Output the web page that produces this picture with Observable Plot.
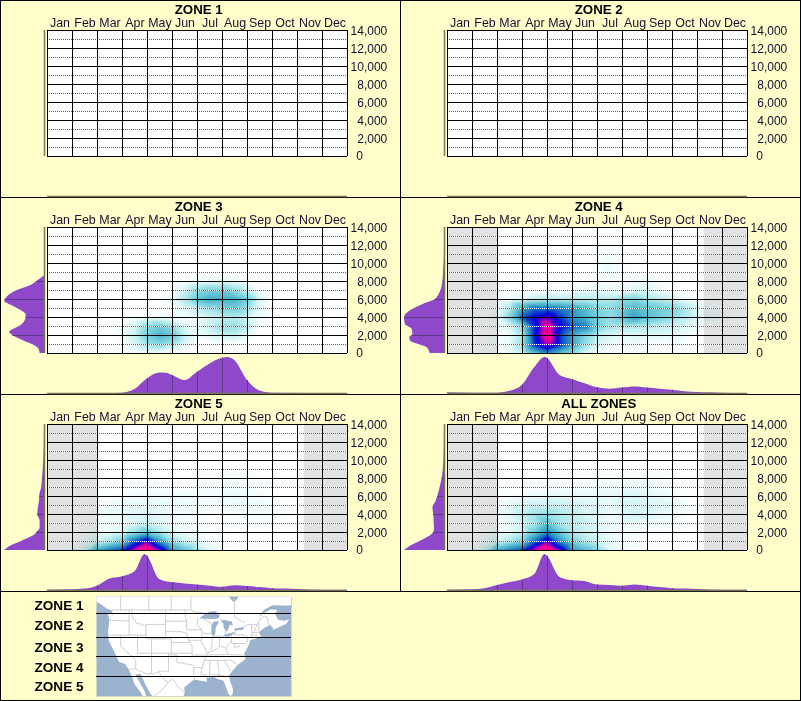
<!DOCTYPE html>
<html><head><meta charset="utf-8">
<script src="https://cdn.jsdelivr.net/npm/d3@7"></script>
<script src="https://cdn.jsdelivr.net/npm/@observablehq/plot@0.6"></script>
<style>
html,body{margin:0;padding:0;background:#FFFFCC;overflow:hidden}
#chart{position:absolute;left:0;top:0}
#legend{position:absolute;left:0;top:592px}
#edge{position:absolute;left:0;top:592px;width:801px;height:109px;box-sizing:border-box;border:1px solid #000;border-top:none;pointer-events:none}
svg{display:block}
</style></head><body>
<div id="chart"></div><div id="legend"></div><div id="edge"></div>
<script>
const months=["Jan","Feb","Mar","Apr","May","Jun","Jul","Aug","Sep","Oct","Nov","Dec"];
const monthEdges=[0,1,2,3,4,5,6,7,8,9,10,11,12];
const elevLabels=[2000,4000,6000,8000,10000,12000,14000];
const elevMajor=[0,2000,4000,6000,8000,10000,12000,14000];
const elevMinor=[1000,3000,5000,7000,9000,11000,13000];
const panelNames=["ZONE 1","ZONE 2","ZONE 3","ZONE 4","ZONE 5","ALL ZONES"];
const greyPanels=[3,4,5];
const heatElev=[0,1000,2000,3000,4000,5000,6000,7000,8000,9000];

// half-month columns from January 1; trailing zeros omitted; rows low to high elevation
const heatZone3=[[],
[0,0,0,0,0,0,1,6,15,20,13,4],
[0,0,0,0,0,0,3,9,24,34,26,9,2,5,9,9,4],
[0,0,0,0,0,0,2,7,18,24,17,6,4,9,16,17,10,1],
[0,0,0,0,0,0,0,1,2,3,2,1,3,7,10,11,7,1],
[0,0,0,0,0,0,0,0,0,0,2,5,10,16,22,24,16,4],
[0,0,0,0,0,0,0,0,0,0,4,14,28,36,34,35,24,6],
[0,0,0,0,0,0,0,0,0,0,1,8,18,24,24,18,8,1],
[0,0,0,0,0,0,0,0,0,0,0,0,2,4,4,3,1],
[]];
const heatZone4=[
[0,0,0,0,1,3,7,28,42,30,18,6,2],
[0,0,0,0,2,4,17,62,82,62,40,18,6,3,2,3,1,0,3],
[0,0,0,0,1,3,15,65,95,60,38,22,10,6,5,5,5,5,4,3],
[0,0,0,0,2,6,20,62,90,68,55,48,24,14,12,13,12,10,8,6,3],
[1,1,2,1,4,22,55,68,76,60,42,35,24,18,26,40,30,24,18,12,6,3,2],
[0,0,0,0,2,14,38,52,52,48,42,32,22,18,26,32,28,25,22,14,5,2,1],
[0,0,0,0,0,3,6,10,12,12,12,12,12,12,18,22,15,12,8,3,1],
[0,0,0,0,0,0,0,0,0,1,3,3,3,3,3,6,6,2],
[0,0,0,0,0,0,0,0,0,0,0,0,1,1,1,2,3,1],
[0,0,0,0,0,0,0,0,0,0,0,0,1,3,1]];
const heatZone5=[
[0,0,2,10,40,52,62,86,100,78,42,28,15,5,1],
[0,0,0,2,7,14,24,55,76,42,18,9,5,2,1],
[0,0,0,0,2,3,6,16,26,14,6,3,2,0,1],
[0,0,0,0,1,2,3,6,9,5,3,2,1,0,1,0,1,0,1],
[0,0,0,0,2,4,4,5,6,4,3,2,1,0,1,1,2,2,2,1],
[0,0,0,0,1,3,4,4,4,4,3,3,2,2,2,3,3,3,2,1],
[0,0,0,0,0,1,2,2,3,3,3,3,2,2,3,3,3,2,1],
[0,0,0,0,0,0,0,1,1,1,1,0,1,2,2,2,2,1],
[0,0,0,0,0,0,0,0,0,0,0,0,0,0,1,1,1],
[]];
const heatAll=[
[0,0,2,10,38,50,60,86,100,78,42,32,20,6,2],
[0,0,0,2,7,14,24,52,76,44,24,14,8,4,2,1],
[0,0,0,0,2,4,9,26,46,26,14,8,6,3,2,2,1,0,1],
[0,0,0,0,1,4,7,14,30,14,12,9,5,3,3,3,3,2,2,1],
[0,0,0,0,2,6,11,16,18,12,10,7,5,3,5,8,6,4,3,1],
[0,0,0,0,1,4,8,9,9,9,9,7,5,4,6,7,6,6,5,2],
[0,0,0,0,0,1,2,3,4,4,4,4,4,4,6,7,5,4,2,1],
[0,0,0,0,0,0,0,1,1,2,2,2,2,3,3,4,4,2,1],
[0,0,0,0,0,0,0,0,0,0,0,0,1,1,1,2,2,1],
[]];

// margins: [month, share of peak]
const monthZone3=[[0,0],[2.5,0],[3,.01],[3.5,.11],[4,.41],[4.5,.57],[4.75,.56],[5,.5],[5.5,.36],[6,.59],[6.5,.82],[7,.98],[7.2,1],[7.5,.91],[8,.36],[8.5,.07],[9,.01],[12,0]];
const monthZone4=[[0,.02],[1,.01],[2,.01],[2.5,.06],[3,.23],[3.5,.73],[3.9,1],[4,.97],[4.5,.5],[5,.39],[5.5,.27],[6,.16],[6.5,.12],[7,.15],[7.5,.18],[8,.15],[8.5,.12],[9,.09],[9.5,.05],[10,.03],[10.5,.02],[11,.01],[12,0]];
const monthZone5=[[0,.01],[1,.02],[1.5,.04],[2,.12],[2.5,.32],[3,.38],[3.5,.52],[3.9,1],[4,.95],[4.5,.3],[5,.22],[5.5,.18],[6,.15],[6.5,.12],[7,.09],[7.5,.13],[8,.11],[8.5,.08],[9,.05],[9.5,.04],[10,.03],[11,.01],[12,.01]];
const monthAll=[[0,.01],[1,.02],[1.5,.05],[2,.14],[2.5,.22],[3,.29],[3.5,.45],[3.9,1],[4,.95],[4.5,.36],[5,.27],[5.5,.25],[6,.15],[6.5,.14],[7,.12],[7.5,.15],[8,.12],[8.5,.08],[9,.05],[9.5,.04],[10,.03],[11,.01],[12,.01]];
// [elevation, share of peak]
const elevZone3=[[0,.11],[500,.14],[1000,.3],[1400,.52],[2000,.79],[2330,.87],[3200,.56],[4000,.46],[4300,.46],[5000,.68],[5850,1],[6000,.98],[6800,.77],[7700,.28],[8000,.19],[8600,0]];
const elevZone4=[[0,.36],[660,.44],[1400,.85],[1780,.87],[2000,.81],[2150,.79],[2700,.81],[3260,.98],[4000,1],[4740,.85],[5480,.52],[6000,.23],[6780,.11],[7700,.05],[8000,.04],[9370,.02],[10000,.01],[12000,0],[14000,0]];
const elevZone5=[[0,1],[480,.85],[1040,.56],[1780,.23],[2000,.19],[2500,.11],[3260,.11],[4000,.17],[4740,.15],[5850,.12],[6000,.12],[6960,.07],[8000,.05],[9930,.02],[12000,.005],[14000,0]];
const elevAll=[[0,1],[480,.85],[1040,.6],[1780,.31],[2000,.27],[2330,.25],[3260,.26],[4000,.27],[4740,.29],[5480,.21],[6000,.17],[6960,.11],[8000,.06],[9560,.02],[12000,.005],[14000,0]];

const panelAt=i=>({fx:i%2,fy:Math.floor(i/2)});
const heatBy={2:heatZone3,3:heatZone4,4:heatZone5,5:heatAll};
const monthBy={2:monthZone3,3:monthZone4,4:monthZone5,5:monthAll};
const elevBy={2:elevZone3,3:elevZone4,4:elevZone5,5:elevAll};
const panels=panelNames.map((name,i)=>({name,...panelAt(i)}));
const greyCells=greyPanels.map(panelAt);

const heat=[];
for(const k of Object.keys(heatBy)){
  const pos=panelAt(+k);
  const rows=[...heatBy[k],[]];
  const elevs=[...heatElev,14000];
  rows.forEach((row,r)=>{for(let c=0;c<25;c++)heat.push({...pos,m:c/2,e:elevs[r],v:row[c]||0});});
}
const monthMargin=Object.keys(monthBy).flatMap(k=>monthBy[k].map(([m,v])=>({...panelAt(+k),m,v})));
const elevMargin=Object.keys(elevBy).flatMap(k=>elevBy[k].map(([e,v])=>({...panelAt(+k),e,v})));

const feetPerPx=1000/9;
const monthBase=-40*feetPerPx;           // bottom margin baseline, in elevation units
const elevBase=-0.12;                    // left margin baseline, in month units
const monthTip=d=>monthBase+d.v*36*feetPerPx;
const elevTip=d=>elevBase-d.v*1.6;
const purple="#8E48C9", darkPurple="#5B3A86";

const chart=Plot.plot({
  width:801,height:592,marginLeft:0,marginRight:1,marginTop:0,marginBottom:1,
  style:{background:"#FFFFCC",fontFamily:"Liberation Sans, Arial, sans-serif"},
  x:{domain:[-1.88,14.12],axis:null},
  y:{domain:[-41*feetPerPx,156*feetPerPx],axis:null},
  fx:{domain:[0,1],axis:null,padding:0},
  fy:{domain:[0,1,2],axis:null,padding:0},
  color:{type:"linear",domain:[0,7,18,36,52,66,74,82,92],
    range:["#ffffff","#d5f5f5","#8fdde5","#45aecb","#1a6cc0","#0008d8","#4a00d0","#d000a8","#ff0090"]},
  marks:[
    Plot.frame({stroke:"#000"}),
    Plot.rect([0],{x1:0,x2:12,y1:0,y2:14000,fill:"#fff"}),
    Plot.rect(greyCells,{fx:"fx",fy:"fy",x1:0,x2:2,y1:0,y2:14000,fill:"#E2E2E2"}),
    Plot.rect(greyCells,{fx:"fx",fy:"fy",x1:10.27,x2:12,y1:0,y2:14000,fill:"#E2E2E2"}),
    Plot.raster(heat,{fx:"fx",fy:"fy",x:"m",y:"e",fill:"v",x1:0,x2:12,y1:0,y2:14000,interpolate:"barycentric",mixBlendMode:"multiply"}),
    Plot.ruleY(elevMinor,{x1:0,x2:12,stroke:"#fff",strokeWidth:1}),
    Plot.ruleY(elevMinor,{x1:0,x2:12,stroke:"#666",strokeWidth:1,strokeDasharray:"1,1"}),
    Plot.ruleY(elevMajor,{x1:0,x2:12,stroke:"#000",strokeWidth:1}),
    Plot.ruleX(monthEdges,{y1:0,y2:14000,stroke:"#000",strokeWidth:1}),
    Plot.areaY(monthMargin,{fx:"fx",fy:"fy",x:"m",y1:monthBase,y2:monthTip,z:d=>d.fx+"-"+d.fy,fill:purple,curve:"monotone-x"}),
    Plot.areaX(elevMargin,{fx:"fx",fy:"fy",y:"e",x1:elevBase,x2:elevTip,z:d=>d.fx+"-"+d.fy,fill:purple,curve:"monotone-y"}),
    Plot.ruleX(monthMargin.filter(d=>Number.isInteger(d.m)&&d.v>.02),{fx:"fx",fy:"fy",x:"m",y1:monthBase,y2:monthTip,stroke:darkPurple}),
    Plot.ruleY(elevMargin.filter(d=>d.e>0&&d.e%2000===0&&d.v>.02),{fx:"fx",fy:"fy",y:"e",x1:elevBase,x2:elevTip,stroke:darkPurple}),
    Plot.ruleY([monthBase],{x1:0,x2:12,stroke:"#77775A",strokeWidth:1.5}),
    Plot.ruleX([elevBase],{y1:0,y2:14000,stroke:"#77775A",strokeWidth:1.5}),
    Plot.text(panels,{fx:"fx",fy:"fy",x:6.05,y:16330,text:"name",fontSize:13.3,fontWeight:"bold",fill:"#000"}),
    Plot.text(months,{x:(d,i)=>i+.5,y:14800,text:d=>d,fontSize:12.4,fill:"#1a1030"}),
    Plot.text(elevLabels,{x:13.59,y:d=>d-90,text:d=>d3.format(",")(d),textAnchor:"end",fontSize:12,fill:"#101030"}),
    Plot.text([0],{x:12.48,y:0,text:d=>String(d),fontSize:12,fill:"#101030"})
  ]
});
document.getElementById("chart").append(chart);

// legend map, [longitude, latitude]
const zoneNames=["ZONE 1","ZONE 2","ZONE 3","ZONE 4","ZONE 5"];
const zoneNameLat=[50.25,44.7,38.5,33.1,27.6];
const zoneEdgeLat=[48.03,41.36,36.08,30.53];
const mainland=[[-128.6,51.2],[-127,50.6],[-125,49.4],[-123.2,48.9],[-122.6,47.6],[-124.7,48.4],[-124,46.3],[-124.5,42.8],[-124.2,40.4],[-122.5,37.8],[-120.6,34.6],[-118.4,34],[-117.1,32.5],[-116,30.5],[-115,28.3],[-113,26.3],[-112,24.9],[-110.8,24.9],[-111.5,26.5],[-113,28.5],[-114.7,31],[-113,31.3],[-111,28],[-109.5,25.8],[-108.5,24.9],[-97.7,24.9],[-97.2,26],[-97.4,27.5],[-95,29],[-93.8,29.7],[-91,29.3],[-89.2,29.1],[-89.5,30.2],[-87,30.4],[-85,29.7],[-83.5,29.4],[-82.7,28],[-81.8,26],[-81,25.1],[-80.2,25.5],[-80,27],[-81.2,29.5],[-81.3,31],[-79,33.2],[-77.5,34.3],[-75.6,35.3],[-76,37],[-75.2,38],[-74.2,39.7],[-74,40.6],[-72,41],[-70,41.7],[-70.8,42.8],[-69,44],[-67,44.8],[-66,44.3],[-65.7,43.5],[-61,45.2],[-60,46.5],[-61.5,46],[-64,46.3],[-65,47.8],[-64.3,49],[-66.5,49.2],[-69,48.2],[-71,46.9],[-69,49],[-66,50.3],[-60,50.2],[-59.2,50.5],[-59.2,52.75],[-78,52.75],[-79,51.5],[-80,51.3],[-81,52.2],[-81.5,52.75],[-128.6,52.75]];
const newfoundland=[[-59.2,47.7],[-59.2,50],[-57,51],[-55,49],[-55,47]];
const lakeSuperior=[[-92,46.7],[-90,46.6],[-87,46.5],[-85,46.7],[-84.8,47.8],[-86.5,48.7],[-88.5,48.5],[-90,47.9]];
const lakeMichigan=[[-87.8,42.5],[-87,41.7],[-86.3,42.5],[-86.2,44],[-85.2,45.5],[-84.9,45.9],[-86.8,45.8],[-87.7,44.8]];
const lakeHuron=[[-84.5,46],[-83.5,45.3],[-83.3,44],[-82.5,43],[-81.7,43.6],[-81.2,45],[-80,44.6],[-80.5,45.8],[-83,46.2]];
const lakeErie=[[-83.4,41.7],[-81.5,41.6],[-79,42.8],[-80.5,42.7],[-83,42.1]];
const lakeOntario=[[-79.7,43.3],[-76.3,43.5],[-76.3,44.2],[-79.2,43.9]];
const waters=[lakeSuperior,lakeMichigan,lakeHuron,lakeErie,lakeOntario];
const borders=[
[[-123,49],[-95,49],[-94.6,48.7],[-92,48.3],[-89.5,48]],[[-84.5,46.4],[-83,45.8],[-82.5,43],[-83,42.1],[-79,42.8],[-79.2,43.4],[-76.5,44.2],[-74.7,45],[-71.5,45],[-70,46.7],[-69,47.4],[-67.8,47],[-67.5,45.5],[-67,44.8]],
[[-124,46.2],[-123,46.1],[-119,46],[-117,46]],[[-117,49],[-117,42]],[[-124.2,42],[-111,42]],[[-120,42],[-120,39],[-114.6,35],[-114.7,32.7]],[[-114,42],[-114,37]],[[-114,37],[-102,37]],[[-109,41],[-109,31.3]],[[-111,45],[-104,45],[-104,41],[-111,41],[-111,45]],[[-116,49],[-116,47.5],[-114.5,45.5],[-111,44.5]],[[-109,41],[-102,41],[-102,37]],[[-104,43],[-98.5,43],[-96.5,42.5]],[[-104,45.9],[-96.6,45.9]],[[-104,49],[-104,45]],[[-97.2,49],[-96.6,45.9],[-96.5,43.5],[-91.2,43.5]],[[-102,40],[-95.3,40]],[[-102,37],[-94.6,37]],[[-96.5,42.5],[-95.8,40.6],[-94.6,39],[-94.6,36.5],[-90,36.5]],[[-95.8,40.6],[-91.5,40.6]],[[-91.2,43.5],[-91,41],[-91.5,40.4],[-90.2,38.7],[-89.2,37],[-89.7,36],[-90.3,35],[-91,33],[-91.5,31],[-89.7,31],[-89.5,30.2]],[[-103,37],[-103,32],[-106.6,32]],[[-103,36.5],[-100,36.5],[-100,34.5],[-94.5,33.7]],[[-94,33.5],[-94,31],[-93.7,29.7]],[[-94,33],[-91,33]],[[-88.2,35],[-88.4,30.3]],[[-85.6,35],[-85,32],[-85,30.7]],[[-87.5,31],[-85,31],[-82,30.5],[-81.5,30.7]],[[-90.3,35],[-83.1,35],[-81,35.1],[-78.5,33.9]],[[-89.5,36.5],[-81.7,36.6],[-75.9,36.5]],[[-83.1,35],[-81,32.1]],[[-89.2,37],[-85.7,38.2],[-84.8,39.1],[-82.6,38.4],[-80.6,40.6]],[[-87.5,41.7],[-87.5,39.3],[-88,37.9]],[[-84.8,41.7],[-84.8,39.1]],[[-87,41.75],[-83.5,41.7]],[[-80.5,42],[-80.5,39.7],[-75.8,39.7]],[[-79.8,42.2],[-75.3,42],[-74.7,41.4],[-75.2,39.9]],[[-90.6,42.5],[-87.8,42.5]],[[-92.5,46.7],[-92.8,45],[-91.2,43.5]],[[-90.4,46.5],[-87.8,45.3]],[[-73.5,41.2],[-73.3,42.7],[-73.4,45]],[[-71.5,45],[-72.4,43],[-72.5,42.7]],[[-73.3,42.7],[-71,42.7]],[[-73.5,42],[-71.5,42]],[[-71,45.2],[-70.7,43.1]],[[-120,52.75],[-120,49]],[[-110,52.75],[-110,49]],[[-102,52.75],[-102,49]],[[-95,52.75],[-95,49]],[[-79.5,52],[-79.5,47],[-76,45.5]],[[-117.1,32.5],[-114.7,32.7],[-111,31.3],[-108.2,31.3],[-106.5,31.8],[-104.5,29.6],[-103,29],[-101.5,29.8],[-99.5,27.5],[-97.2,26]],[[-108.5,24.9],[-105,27],[-103,29]],[[-81.7,36.6],[-82.6,38.4]],[[-79.5,39.7],[-79.5,38.5],[-77.5,39]]];
const flat=list=>list.flatMap((ring,id)=>ring.map(([lon,lat])=>({id,lon,lat})));

const legend=Plot.plot({
  width:801,height:109,marginLeft:96,marginRight:510,marginTop:4,marginBottom:5,
  style:{background:"#FFFFCC",fontFamily:"Liberation Sans, Arial, sans-serif"},
  x:{domain:[-128.6,-59.2],axis:null},
  y:{domain:[24.97,52.75],axis:null},
  marks:[
    Plot.frame({fill:"#9CB3CD",stroke:"none"}),
    Plot.line(flat([mainland,newfoundland]),{x:"lon",y:"lat",z:"id",fill:"#fff",stroke:"none",clip:true}),
    Plot.line(flat(borders),{x:"lon",y:"lat",z:"id",stroke:"#CFCFCF",strokeWidth:1,clip:true}),
    Plot.line(flat(waters),{x:"lon",y:"lat",z:"id",fill:"#9CB3CD",stroke:"none",clip:true}),
    Plot.ruleY(zoneEdgeLat,{stroke:"#000",strokeWidth:1}),
    Plot.text(zoneNames,{x:-133.2,y:(d,i)=>zoneNameLat[i],text:d=>d,textAnchor:"end",fontSize:13.6,fontWeight:"bold",fill:"#000"})
  ]
});
document.getElementById("legend").append(legend);
</script></body></html>
